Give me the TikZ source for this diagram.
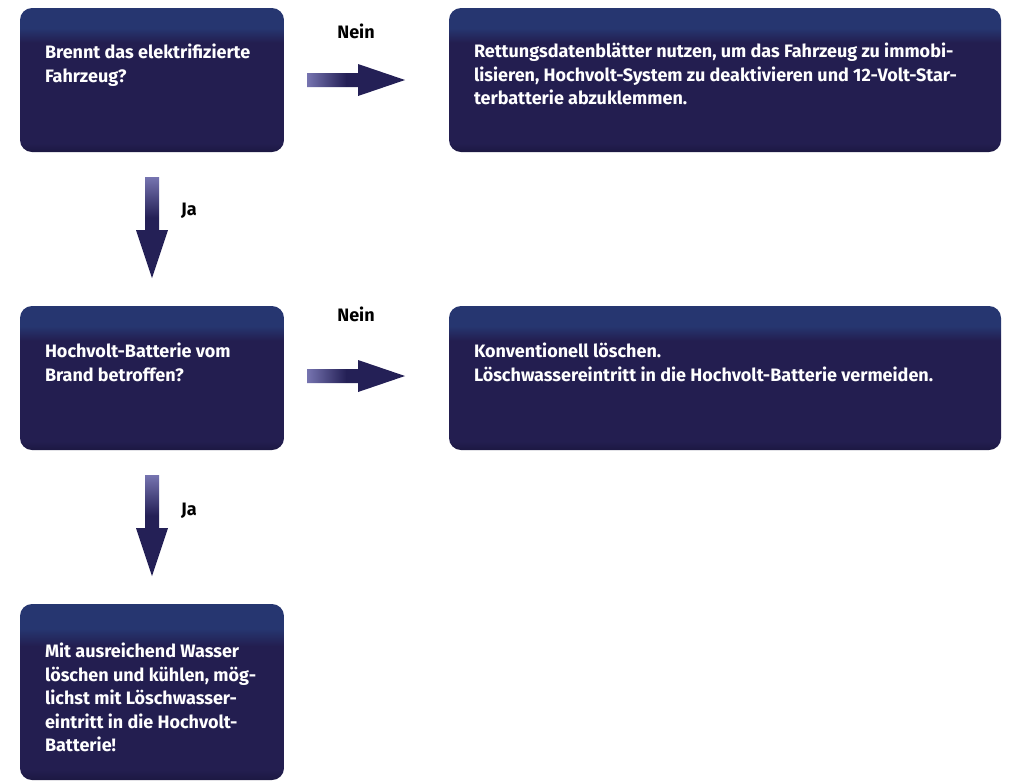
\documentclass[tikz,border=0pt]{standalone}
\usepackage{fontspec}
\setmainfont{Fira Sans}
\usetikzlibrary{calc}
\definecolor{boxdark}{RGB}{35,30,80}
\definecolor{boxtop}{RGB}{38,54,112}
\definecolor{boxbot}{RGB}{28,24,66}
\definecolor{arrowdark}{RGB}{36,32,86}
\definecolor{arrowlight}{RGB}{118,116,176}
\pgfdeclareverticalshading{boxshade}{100bp}{color(0bp)=(boxbot); color(25bp)=(boxbot); color(28bp)=(boxdark); color(63bp)=(boxdark); color(68bp)=(boxtop); color(100bp)=(boxtop)}
\pgfdeclarehorizontalshading{harrowshade}{100bp}{color(0bp)=(arrowlight); color(25bp)=(arrowlight); color(45bp)=(arrowdark); color(100bp)=(arrowdark)}
\pgfdeclareverticalshading{varrowshade}{100bp}{color(0bp)=(arrowdark); color(55bp)=(arrowdark); color(75bp)=(arrowlight); color(100bp)=(arrowlight)}
\newcommand{\boxcontent}[4]{\parbox[c][#2][t]{#1}{\vspace*{\dimexpr#3-14pt\relax}\raggedright\leftskip=25pt\rule{0pt}{14pt}#4}}
\newcommand{\harrowpath}[2]{($(#1)+(0,-7)$) -- ($(#2)+(-47,-7)$) -- ($(#2)+(-47,-16)$) -- (#2) -- ($(#2)+(-47,16)$) -- ($(#2)+(-47,7)$) -- ($(#1)+(0,7)$) -- cycle}
\newcommand{\varrowpath}[2]{($(#1)+(-7,0)$) -- ($(#2)+(-7,-48)$) -- ($(#2)+(-16,-48)$) -- (#2) -- ($(#2)+(16,-48)$) -- ($(#2)+(7,-48)$) -- ($(#1)+(7,0)$) -- cycle}
\tikzset{
  flowbox/.style={rounded corners=12pt, shading=boxshade, inner sep=0pt, outer sep=0pt, text=white,
    font=\bfseries\fontsize{18}{23.5}\selectfont},
  lab/.style={font=\bfseries\fontsize{18}{20}\selectfont, text=black, inner sep=0pt},
  harrow/.style={shading=harrowshade},
  varrow/.style={shading=varrowshade}
}
\begin{document}
\begin{tikzpicture}[x=1pt,y=-1pt]
\useasboundingbox[fill=white] (0,0) rectangle (1009,780);
\node[flowbox, anchor=north west] (b1) at (20,8) {\boxcontent{264pt}{144pt}{50pt}{Brennt das elektrifizierte\\Fahrzeug?}};
\node[flowbox, anchor=north west] (b2) at (449,8) {\boxcontent{552pt}{144pt}{49pt}{Rettungsdatenblätter nutzen, um das Fahrzeug zu immobi-\\lisieren, Hochvolt-System zu deaktivieren und 12-Volt-Star-\\terbatterie abzuklemmen.}};
\node[flowbox, anchor=north west] (b3) at (20,306) {\boxcontent{264pt}{144pt}{51pt}{Hochvolt-Batterie vom\\Brand betroffen?}};
\node[flowbox, anchor=north west] (b4) at (449,306) {\boxcontent{552pt}{144pt}{51pt}{Konventionell löschen.\\Löschwassereintritt in die Hochvolt-Batterie vermeiden.}};
\node[flowbox, anchor=north west] (b5) at (20,604) {\boxcontent{264pt}{176pt}{53pt}{Mit ausreichend Wasser\\löschen und kühlen, mög-\\lichst mit Löschwasser-\\eintritt in die Hochvolt-\\Batterie!}};
% connectors
\coordinate (h1s) at ($(b1.east)+(23,0)$);
\coordinate (h1e) at ($(b2.west)+(-44,0)$);
\coordinate (h2s) at ($(b3.east)+(23,-2)$);
\coordinate (h2e) at ($(b4.west)+(-44,-2)$);
\coordinate (v1s) at ($(b1.south)+(0,25)$);
\coordinate (v1e) at ($(b3.north)+(0,-28)$);
\coordinate (v2s) at ($(b3.south)+(0,25)$);
\coordinate (v2e) at ($(b5.north)+(0,-28)$);
\path[harrow] \harrowpath{h1s}{h1e};
\path[harrow] \harrowpath{h2s}{h2e};
\path[varrow] \varrowpath{v1s}{v1e};
\path[varrow] \varrowpath{v2s}{v2e};
\node[lab] (n1) at ($(h1s)!0.5!(h1e)+(0,-49)$) {Nein};
\node[lab] (n2) at ($(h2s)!0.5!(h2e)+(0,-62)$) {Nein};
\node[lab] (j1) at ($(v1s)!0.5!(v1e)+(37,-17)$) {Ja};
\node[lab] (j2) at ($(v2s)!0.5!(v2e)+(37,-15)$) {Ja};
\end{tikzpicture}
\end{document}
